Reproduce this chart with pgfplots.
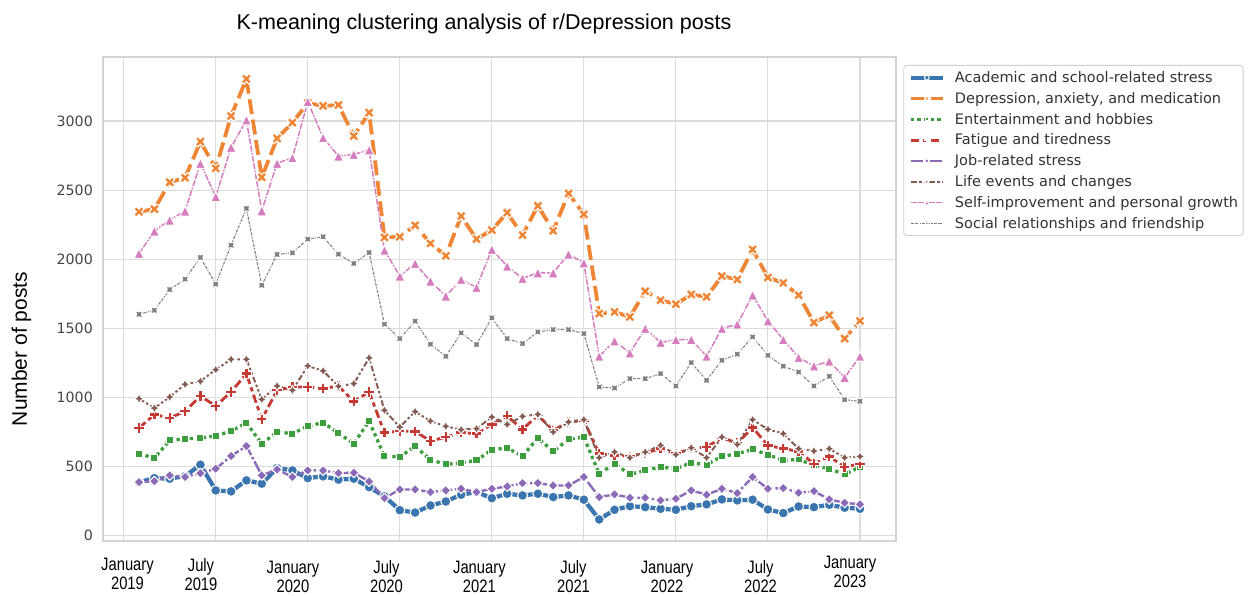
\documentclass[border=0pt]{standalone}
\usepackage{fontspec}
\setmainfont{DejaVu Sans}
\newfontfamily\dejavu{DejaVu Sans}
\newfontfamily\arial{Liberation Sans}
\newfontfamily\arialnarrow[FakeStretch=0.82]{Liberation Sans}
\usepackage{pgfplots}
\usepackage{pgfplotstable}
\pgfplotsset{compat=1.18}

\definecolor{cA}{HTML}{3A75AF}
\definecolor{cD}{HTML}{EF8636}
\definecolor{cE}{HTML}{3C9E3C}
\definecolor{cF}{HTML}{C53A32}
\definecolor{cJ}{HTML}{8D6AB8}
\definecolor{cL}{HTML}{845B53}
\definecolor{cS}{HTML}{D57DBF}
\definecolor{cR}{HTML}{7F7F7F}
\definecolor{gridc}{HTML}{DCDCDC}
\definecolor{spinec}{HTML}{D4D4D4}
\definecolor{tickc}{HTML}{444444}
\definecolor{legc}{HTML}{D0D0D0}
\definecolor{legtext}{HTML}{333333}

% matplotlib-like filled markers (mark size = half the marker size)
\pgfdeclareplotmark{mplX}{%
  \pgfpathmoveto{\pgfqpoint{-.5\pgfplotmarksize}{-\pgfplotmarksize}}%
  \pgfpathlineto{\pgfqpoint{0pt}{-.5\pgfplotmarksize}}%
  \pgfpathlineto{\pgfqpoint{.5\pgfplotmarksize}{-\pgfplotmarksize}}%
  \pgfpathlineto{\pgfqpoint{\pgfplotmarksize}{-.5\pgfplotmarksize}}%
  \pgfpathlineto{\pgfqpoint{.5\pgfplotmarksize}{0pt}}%
  \pgfpathlineto{\pgfqpoint{\pgfplotmarksize}{.5\pgfplotmarksize}}%
  \pgfpathlineto{\pgfqpoint{.5\pgfplotmarksize}{\pgfplotmarksize}}%
  \pgfpathlineto{\pgfqpoint{0pt}{.5\pgfplotmarksize}}%
  \pgfpathlineto{\pgfqpoint{-.5\pgfplotmarksize}{\pgfplotmarksize}}%
  \pgfpathlineto{\pgfqpoint{-\pgfplotmarksize}{.5\pgfplotmarksize}}%
  \pgfpathlineto{\pgfqpoint{-.5\pgfplotmarksize}{0pt}}%
  \pgfpathlineto{\pgfqpoint{-\pgfplotmarksize}{-.5\pgfplotmarksize}}%
  \pgfpathclose\pgfusepathqfillstroke}
\pgfdeclareplotmark{mplP}{%
  \pgfpathmoveto{\pgfqpoint{-.3333\pgfplotmarksize}{-\pgfplotmarksize}}%
  \pgfpathlineto{\pgfqpoint{.3333\pgfplotmarksize}{-\pgfplotmarksize}}%
  \pgfpathlineto{\pgfqpoint{.3333\pgfplotmarksize}{-.3333\pgfplotmarksize}}%
  \pgfpathlineto{\pgfqpoint{\pgfplotmarksize}{-.3333\pgfplotmarksize}}%
  \pgfpathlineto{\pgfqpoint{\pgfplotmarksize}{.3333\pgfplotmarksize}}%
  \pgfpathlineto{\pgfqpoint{.3333\pgfplotmarksize}{.3333\pgfplotmarksize}}%
  \pgfpathlineto{\pgfqpoint{.3333\pgfplotmarksize}{\pgfplotmarksize}}%
  \pgfpathlineto{\pgfqpoint{-.3333\pgfplotmarksize}{\pgfplotmarksize}}%
  \pgfpathlineto{\pgfqpoint{-.3333\pgfplotmarksize}{.3333\pgfplotmarksize}}%
  \pgfpathlineto{\pgfqpoint{-\pgfplotmarksize}{.3333\pgfplotmarksize}}%
  \pgfpathlineto{\pgfqpoint{-\pgfplotmarksize}{-.3333\pgfplotmarksize}}%
  \pgfpathlineto{\pgfqpoint{-.3333\pgfplotmarksize}{-.3333\pgfplotmarksize}}%
  \pgfpathclose\pgfusepathqfillstroke}
\pgfdeclareplotmark{mplsq}{%
  \pgfpathrectangle{\pgfqpoint{-.7071\pgfplotmarksize}{-.7071\pgfplotmarksize}}{\pgfqpoint{1.4142\pgfplotmarksize}{1.4142\pgfplotmarksize}}%
  \pgfusepathqfillstroke}
\pgfdeclareplotmark{mpldia}{%
  \pgfpathmoveto{\pgfqpoint{0pt}{\pgfplotmarksize}}%
  \pgfpathlineto{\pgfqpoint{-\pgfplotmarksize}{0pt}}%
  \pgfpathlineto{\pgfqpoint{0pt}{-\pgfplotmarksize}}%
  \pgfpathlineto{\pgfqpoint{\pgfplotmarksize}{0pt}}%
  \pgfpathclose\pgfusepathqfillstroke}
\pgfdeclareplotmark{mplstar}{%
  \pgfpathmoveto{\pgfqpoint{0pt}{\pgfplotmarksize}}%
  \pgfpathlineto{\pgfqpoint{-.3536\pgfplotmarksize}{.3536\pgfplotmarksize}}%
  \pgfpathlineto{\pgfqpoint{-\pgfplotmarksize}{0pt}}%
  \pgfpathlineto{\pgfqpoint{-.3536\pgfplotmarksize}{-.3536\pgfplotmarksize}}%
  \pgfpathlineto{\pgfqpoint{0pt}{-\pgfplotmarksize}}%
  \pgfpathlineto{\pgfqpoint{.3536\pgfplotmarksize}{-.3536\pgfplotmarksize}}%
  \pgfpathlineto{\pgfqpoint{\pgfplotmarksize}{0pt}}%
  \pgfpathlineto{\pgfqpoint{.3536\pgfplotmarksize}{.3536\pgfplotmarksize}}%
  \pgfpathclose\pgfusepathqfillstroke}
\pgfdeclareplotmark{mplstarx}{%
  \pgfpathmoveto{\pgfqpoint{.7071\pgfplotmarksize}{.7071\pgfplotmarksize}}%
  \pgfpathlineto{\pgfqpoint{0pt}{.5\pgfplotmarksize}}%
  \pgfpathlineto{\pgfqpoint{-.7071\pgfplotmarksize}{.7071\pgfplotmarksize}}%
  \pgfpathlineto{\pgfqpoint{-.5\pgfplotmarksize}{0pt}}%
  \pgfpathlineto{\pgfqpoint{-.7071\pgfplotmarksize}{-.7071\pgfplotmarksize}}%
  \pgfpathlineto{\pgfqpoint{0pt}{-.5\pgfplotmarksize}}%
  \pgfpathlineto{\pgfqpoint{.7071\pgfplotmarksize}{-.7071\pgfplotmarksize}}%
  \pgfpathlineto{\pgfqpoint{.5\pgfplotmarksize}{0pt}}%
  \pgfpathclose\pgfusepathqfillstroke}
\pgfdeclareplotmark{mpltri}{%
  \pgfpathmoveto{\pgfqpoint{0pt}{\pgfplotmarksize}}%
  \pgfpathlineto{\pgfqpoint{-\pgfplotmarksize}{-\pgfplotmarksize}}%
  \pgfpathlineto{\pgfqpoint{\pgfplotmarksize}{-\pgfplotmarksize}}%
  \pgfpathclose\pgfusepathqfillstroke}

% monthly counts, Jan 2019 (x=0) .. Dec 2022 (x=47)
% a=academic d=depression e=entertainment f=fatigue j=job l=life s=self r=social
\pgfplotstableread{
x  a    d     e    f     j    l     s     r
0  386  2343  592  778   386  990   2041  1601
1  415  2362  560  875   393  922   2203  1630
2  411  2556  688  850   435  1002  2283  1780
3  430  2589  700  899   423  1094  2348  1855
4  512  2850  705  1009  451  1116  2693  2012
5  326  2657  720  937   483  1200  2452  1819
6  319  3036  756  1039  575  1275  2809  2101
7  399  3304  814  1171  647  1275  3007  2367
8  375  2592  664  841   435  985   2350  1811
9  488  2874  749  1051  478  1082  2693  2034
10 471  2988  737  1075  423  1051  2734  2046
11 415  3130  792  1075  471  1227  3140  2145
12 428  3109  817  1063  471  1191  2879  2162
13 404  3116  741  1082  451  1080  2746  2036
14 411  2891  664  971   454  1099  2758  1969
15 350  3060  828  1039  391  1285  2790  2048
16 283  2157  572  744   270  906   2065  1529
17 183  2162  570  755   333  785   1877  1425
18 166  2244  645  754   333  896   1969  1551
19 217  2114  548  683   314  828   1840  1384
20 246  2024  514  712   326  790   1732  1297
21 295  2312  527  744   338  766   1853  1466
22 314  2145  543  737   314  773   1795  1382
23 270  2210  621  804   338  857   2070  1575
24 302  2336  633  864   355  804   1949  1425
25 290  2174  575  768   379  862   1860  1389
26 302  2386  705  870   379  877   1901  1473
27 278  2205  609  761   362  749   1901  1490
28 290  2476  696  821   362  821   2036  1490
29 259  2324  712  833   423  838   1973  1461
30 116  1606  447  592   278  563   1297  1075
31 186  1618  519  580   297  604   1408  1067
32 212  1582  442  572   273  563   1321  1135
33 205  1768  471  597   273  604   1498  1135
34 193  1703  495  628   254  652   1397  1171
35 186  1674  483  592   266  585   1418  1082
36 212  1744  527  628   326  635   1418  1251
37 225  1727  512  640   295  563   1297  1123
38 261  1877  572  708   338  712   1498  1268
39 254  1853  592  669   307  659   1529  1312
40 259  2070  623  780   423  838   1739  1437
41 188  1867  585  652   338  768   1553  1304
42 162  1828  543  628   343  737   1418  1225
43 210  1739  551  609   309  628   1288  1183
44 205  1541  507  519   321  611   1227  1082
45 222  1594  483  572   261  628   1261  1152
46 201  1425  442  495   237  563   1143  983
47 193  1553  495  519   225  572   1297  971
}\data

\begin{document}
\begin{tikzpicture}
\path[use as bounding box] (0,0) rectangle (1248pt,595pt);
\begin{axis}[
    at={(103pt,54pt)}, anchor=south west,
    scale only axis,
    width=793pt, height=484pt,
    xmin=-2.35, xmax=49.35,
    ymin=-40, ymax=3463,
    xtick={-1,5,11,17,23,29,35,41,47},
    xticklabels={},
    ytick={0,500,...,3000},
    grid=major,
    grid style={draw=gridc, line width=1.1pt},
    axis line style={draw=spinec, line width=1.2pt},
    major tick length=0pt,
    /pgf/number format/assume math mode=true,
    /pgf/number format/1000 sep={},
    yticklabel style={font=\dejavu\fontsize{14.2}{17}\selectfont, text=tickc,
      inner sep=0pt, xshift=-10pt, anchor=east},
    legend cell align=left,
    legend style={at={(1,1)}, anchor=north west, xshift=7.3pt, yshift=-8pt,
      draw=legc, line width=0.9pt, rounded corners=3pt, fill=white,
      text=legtext, font=\dejavu\fontsize{14.5}{17}\selectfont,
      inner xsep=5pt, inner ysep=5pt, row sep=6.3pt, column sep=10pt,
      nodes={inner sep=0pt, text height=12pt, text depth=2.5pt}},
    legend image code/.code={%
      \draw[mark repeat=2, mark phase=2, #1]
        plot coordinates {(0pt,0pt) (16pt,0pt) (32pt,0pt)};},
    legend image post style={sharp corners, mark size=2.4pt},
    every axis plot/.append style={line join=round},
]
\addplot[cA, line width=4.2pt, mark=*, mark size=5pt,
  mark options={solid, draw=white, fill=cA, line width=1.05pt}]
  table[x=x, y=a] {\data};
\addlegendentry{Academic and school-related stress}
\addplot[cD, line width=3.75pt, dash pattern=on 15pt off 5.63pt, mark=mplX, mark size=5.2pt,
  mark options={solid, draw=white, fill=cD, line width=1.05pt}]
  table[x=x, y=d] {\data};
\addlegendentry{Depression, anxiety, and medication}
\addplot[cE, line width=3.3pt, dash pattern=on 3.3pt off 3.3pt, mark=mplsq, mark size=5pt,
  mark options={solid, draw=white, fill=cE, line width=1.05pt}]
  table[x=x, y=e] {\data};
\addlegendentry{Entertainment and hobbies}
\addplot[cF, line width=2.85pt, dash pattern=on 8.55pt off 3.56pt on 4.28pt off 3.56pt,
  mark=mplP, mark size=5.2pt,
  mark options={solid, draw=white, fill=cF, line width=1.05pt}]
  table[x=x, y=f] {\data};
\addlegendentry{Fatigue and tiredness}
\addplot[cJ, line width=2.4pt, dash pattern=on 12pt off 2.4pt on 2.4pt off 2.4pt,
  mark=mpldia, mark size=5pt,
  mark options={solid, draw=white, fill=cJ, line width=1.05pt}]
  table[x=x, y=j] {\data};
\addlegendentry{Job-related stress}
\addplot[cL, line width=1.95pt,
  dash pattern=on 5.85pt off 2.44pt on 2.44pt off 2.44pt on 2.44pt off 2.44pt,
  mark=mplstar, mark size=5pt,
  mark options={solid, draw=white, fill=cL, line width=1.05pt}]
  table[x=x, y=l] {\data};
\addlegendentry{Life events and changes}
\addplot[cS, line width=1.5pt,
  dash pattern=on 6pt off 1.5pt on 6pt off 1.5pt on 1.5pt off 1.5pt,
  mark=mpltri, mark size=5pt,
  mark options={solid, draw=white, fill=cS, line width=1.05pt}]
  table[x=x, y=s] {\data};
\addlegendentry{Self-improvement and personal growth}
\addplot[cR, line width=1.05pt,
  dash pattern=on 3.15pt off 1.31pt on 3.15pt off 1.31pt on 1.31pt off 1.31pt,
  mark=mplstarx, mark size=5pt,
  mark options={solid, draw=white, fill=cR, line width=1.05pt}]
  table[x=x, y=r] {\data};
\addlegendentry{Social relationships and friendship}
\end{axis}

% title and axis label
\node[anchor=base, font=\arial\fontsize{21.5}{26}\selectfont, text=black]
  at (484pt,565pt) {K-meaning clustering analysis of r/Depression posts};
\node[rotate=90, anchor=base, font=\arial\fontsize{21}{25}\selectfont, text=black]
  at (27pt,246pt) {Number of posts};

% x tick labels (two lines each)
\foreach \xx/\la/\lb/\yy in {
    127.5/January/2019/25, 201/July/2019/24, 293/January/2020/22,
    386.5/July/2020/22, 479.4/January/2021/22, 573.5/July/2021/22,
    667/January/2022/22, 760.5/July/2022/22, 850/January/2023/27}{
  \node[anchor=base, inner sep=0pt, font=\arialnarrow\fontsize{18}{20}\selectfont, text=black]
    at (\xx pt,\yy pt) {\la};
  \node[anchor=base, inner sep=0pt, font=\arialnarrow\fontsize{18}{20}\selectfont, text=black]
    at (\xx pt,\yy pt - 19pt) {\lb};
}
\end{tikzpicture}
\end{document}
